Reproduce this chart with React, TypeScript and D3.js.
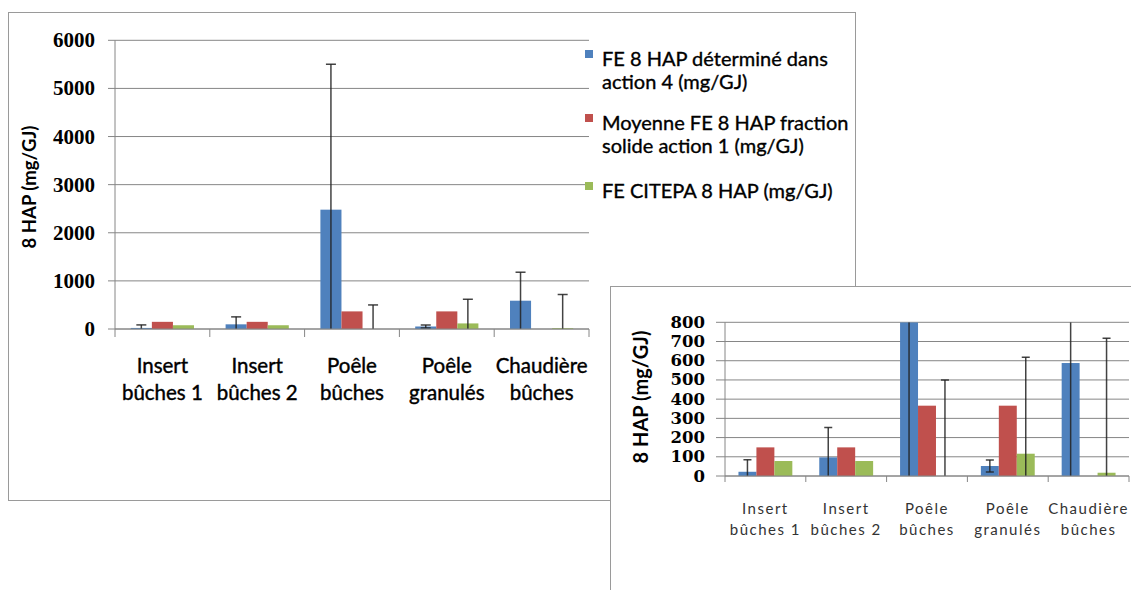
import React from "react";
import * as d3 from "d3";

const categories = ["Insert bûches 1", "Insert bûches 2", "Poêle bûches", "Poêle granulés", "Chaudière bûches"];
const labelLines = [["Insert", "bûches 1"], ["Insert", "bûches 2"], ["Poêle", "bûches"], ["Poêle", "granulés"], ["Chaudière", "bûches"]];
const seriesNames = ["FE 8 HAP déterminé dans action 4 (mg/GJ)", "Moyenne FE 8 HAP fraction solide action 1 (mg/GJ)", "FE CITEPA 8 HAP (mg/GJ)"];
const legendLines = [["FE 8 HAP déterminé dans", "action 4 (mg/GJ)"], ["Moyenne FE 8 HAP fraction", "solide action 1 (mg/GJ)"], ["FE CITEPA 8 HAP (mg/GJ)"]];
const blueValues = [22, 97, 2480, 52, 588];
const redValues = [149, 149, 366, 366, 0];
const greenValues = [78, 78, 0, 116, 17];
const blueErr = [63, 155, 3020, 31, 592];
const redErr: (number | null)[] = [null, null, null, null, null];
const greenErr: (number | null)[] = [null, null, 500, 502, 700];
const mainTicks = [0, 1000, 2000, 3000, 4000, 5000, 6000];
const insetTicks = [0, 100, 200, 300, 400, 500, 600, 700, 800];
const yTitle = "8 HAP (mg/GJ)";

const colors = ["#4F81BD", "#C0504D", "#9BBB59"];
const seriesValues = [blueValues, redValues, greenValues];
const seriesErr = [blueErr, redErr, greenErr];

type Cfg = {
  id: string;
  left: number; right: number; top: number; bottom: number;
  yMax: number; ticks: number[];
  tickLabelX: number; tickFont: number; tickFamily: string;
  gridStart: number; xTickLen: number;
  labelY1: number; labelY2: number; labelFont: number; labelLetter: number; labelColor: string; labelStroke: number;
  titleX: number; titleY: number; titleFont: number;
  capW: number; errW: number;
};

function Panel({ c }: { c: Cfg }) {
  const x0 = d3.scaleBand<string>().domain(categories).range([c.left, c.right]).paddingInner(0).paddingOuter(0);
  const bw = x0.bandwidth() / 4.5;
  const x1 = d3.scaleBand<number>().domain([0, 1, 2]).range([0, bw * 3]);
  const y = d3.scaleLinear().domain([0, c.yMax]).range([c.bottom, c.top]);
  const clampY = (v: number) => y(Math.max(0, Math.min(c.yMax, v)));
  const clipId = "clip-" + c.id;
  return (
    <g>
      <defs>
        <clipPath id={clipId}>
          <rect x={c.left} y={c.top} width={c.right - c.left} height={c.bottom - c.top} />
        </clipPath>
      </defs>
      {c.ticks.map((t) => (
        <g key={t}>
          <line x1={c.gridStart} x2={c.right} y1={y(t)} y2={y(t)} stroke="#868686" strokeWidth={1} />
          <text x={c.tickLabelX} y={y(t)} textAnchor="end" dominantBaseline="central"
            fontFamily={c.tickFamily} fontWeight="bold" fontSize={c.tickFont} fill="#000">{t}</text>
        </g>
      ))}
      <line x1={c.left} x2={c.left} y1={c.top} y2={c.bottom} stroke="#868686" />
      {d3.range(categories.length + 1).map((i) => {
        const xx = c.left + i * x0.bandwidth();
        return <line key={i} x1={xx} x2={xx} y1={c.bottom} y2={c.bottom + c.xTickLen} stroke="#868686" />;
      })}
      <g clipPath={`url(#${clipId})`}>
        {seriesValues.map((vals, s) =>
          vals.map((v, i) => {
            const bx = (x0(categories[i]) as number) + bw * 0.75 + (x1(s) as number);
            return v > 0 ? (
              <rect key={`b${s}-${i}`} x={bx} width={bw} y={clampY(v)} height={c.bottom - clampY(v)} fill={colors[s]} />
            ) : null;
          })
        )}
        {seriesErr.map((errs, s) =>
          errs.map((e, i) => {
            if (e == null) return null;
            const v = seriesValues[s][i];
            const cx = (x0(categories[i]) as number) + bw * 0.75 + (x1(s) as number) + bw / 2;
            const hi = v + e, lo = v - e;
            return (
              <g key={`e${s}-${i}`} stroke="#222" strokeWidth={c.errW} strokeOpacity={0.85}>
                <line x1={cx} x2={cx} y1={clampY(hi)} y2={clampY(lo)} />
                {hi <= c.yMax && <line x1={cx - c.capW / 2} x2={cx + c.capW / 2} y1={y(hi)} y2={y(hi)} />}
                {lo >= 0 && <line x1={cx - c.capW / 2} x2={cx + c.capW / 2} y1={y(lo)} y2={y(lo)} />}
              </g>
            );
          })
        )}
      </g>
      <line x1={c.left} x2={c.right} y1={c.bottom} y2={c.bottom} stroke="#868686" />
      {labelLines.map((ls, i) => {
        const cx = (x0(categories[i]) as number) + x0.bandwidth() / 2;
        return (
          <text key={i} textAnchor="middle" fontFamily="Lato, sans-serif" fontSize={c.labelFont}
            letterSpacing={c.labelLetter} fill={c.labelColor} stroke={c.labelColor} strokeWidth={c.labelStroke}>
            <tspan x={cx} y={c.labelY1} dominantBaseline="central">{ls[0]}</tspan>
            <tspan x={cx} y={c.labelY2} dominantBaseline="central">{ls[1]}</tspan>
          </text>
        );
      })}
      <text transform={`translate(${c.titleX},${c.titleY}) rotate(-90)`} textAnchor="middle" dominantBaseline="central"
        fontFamily="Lato, sans-serif" fontWeight="bold" fontSize={c.titleFont} fill="#000">{yTitle}</text>
    </g>
  );
}

const mainCfg: Cfg = {
  id: "main", left: 115, right: 589, top: 40.3, bottom: 329, yMax: 6000, ticks: mainTicks,
  tickLabelX: 95, tickFont: 21, tickFamily: "'Liberation Serif', serif", gridStart: 108, xTickLen: 8,
  labelY1: 365, labelY2: 392, labelFont: 20.5, labelLetter: 0, labelColor: "#000", labelStroke: 0.4,
  titleX: 29, titleY: 187, titleFont: 18.5, capW: 10, errW: 1.5,
};
const insetCfg: Cfg = {
  id: "inset", left: 725, right: 1129, top: 322.3, bottom: 476, yMax: 800, ticks: insetTicks,
  tickLabelX: 705, tickFont: 16.5, tickFamily: "'DejaVu Serif', serif", gridStart: 716, xTickLen: 6,
  labelY1: 508, labelY2: 529, labelFont: 15, labelLetter: 1.5, labelColor: "#333", labelStroke: 0,
  titleX: 640, titleY: 397, titleFont: 20, capW: 8, errW: 1.5,
};

export default function App() {
  return (
    <svg width={1131} height={590} style={{ position: "absolute", left: 0, top: 0, background: "#fff" }}>
      <rect x={0} y={0} width={1131} height={590} fill="#fff" />
      <rect x={8.5} y={12.5} width={847} height={488} fill="#fff" stroke="#9a9a9a" />
      <Panel c={mainCfg} />
      {legendLines.map((ls, s) => {
        const baseY = [58, 122, 190][s];
        return (
          <g key={s}>
            <rect x={585} y={baseY - 8} width={8} height={8} fill={colors[s]} />
            <text fontFamily="Lato, sans-serif" fontSize={20} fill="#000" stroke="#000" strokeWidth={0.35}>
              {ls.map((l, k) => (
                <tspan key={k} x={602} y={baseY + k * 23} dominantBaseline="central">{l}</tspan>
              ))}
            </text>
          </g>
        );
      })}
      <rect x={610.5} y={286.5} width={600} height={400} fill="#fff" stroke="#9a9a9a" />
      <Panel c={insetCfg} />
    </svg>
  );
}
